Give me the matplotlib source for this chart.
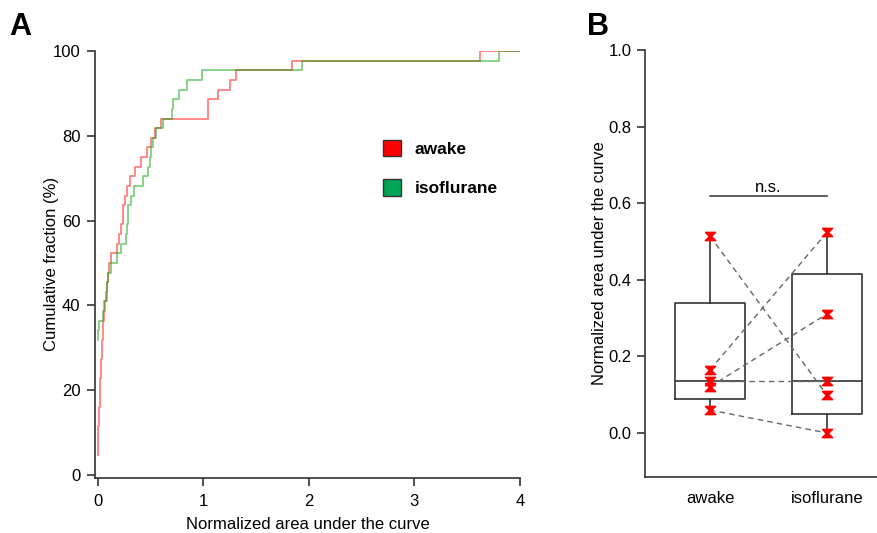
import numpy as np
import matplotlib
matplotlib.use("Agg")
import matplotlib.pyplot as plt
from matplotlib.patches import Patch
from matplotlib.path import Path

plt.rcParams["font.family"] = ["Liberation Sans", "DejaVu Sans"]

# Panel A: normalized AUC per cell (sorted)
awake_auc = [0.0, 0.0, 0.003, 0.005, 0.008, 0.011, 0.015, 0.019, 0.022, 0.027,
             0.031, 0.036, 0.041, 0.045, 0.050, 0.054, 0.062, 0.070, 0.078, 0.085,
             0.100, 0.110, 0.125, 0.180, 0.205, 0.218, 0.240, 0.243, 0.260,
             0.280, 0.307, 0.353, 0.415, 0.470, 0.510, 0.543, 0.600, 1.050, 1.050,
             1.140, 1.250, 1.310, 1.840, 3.620]
iso_auc = [0.0] * 14 + [0.003, 0.010, 0.054, 0.060, 0.085, 0.085, 0.100, 0.125,
                        0.180, 0.220, 0.270, 0.280, 0.285, 0.290, 0.316, 0.340,
                        0.430, 0.473, 0.495, 0.510, 0.527, 0.549, 0.622, 0.700,
                        0.716, 0.773, 0.843, 0.984, 1.937, 3.800]

# Panel B: box statistics and paired per-animal values
groups = ["awake", "isoflurane"]
box_q1 = [0.089, 0.050]
box_med = [0.135, 0.135]
box_q3 = [0.339, 0.416]
box_lo = [0.060, 0.000]
box_hi = [0.514, 0.524]
pair_awake = [0.514, 0.165, 0.121, 0.137, 0.060]
pair_iso = [0.099, 0.524, 0.311, 0.137, 0.000]

RED = "#FF0000"
GREEN = "#00A000"
GRAY = "#333333"
FS = 12


def ecdf_xy(vals, xmax):
    v = np.sort(np.asarray(vals))
    u = np.unique(v)
    lev = np.searchsorted(v, u, side="right") / len(v) * 100
    return np.append(u, xmax), np.append(lev, lev[-1])


fig = plt.figure(figsize=(8.78, 5.33), dpi=100)

# ---- Panel A ----
ax = fig.add_axes([0.1082, 0.104, 0.484, 0.800])
for vals, col in [(awake_auc, RED), (iso_auc, GREEN)]:
    x, y = ecdf_xy(vals, 4.0)
    ax.step(x, y, where="post", color=col, alpha=0.5, lw=1.3)
ax.set_xlim(-0.025, 4.0)
ax.set_ylim(-0.7, 100)
ax.set_xticks([0, 1, 2, 3, 4])
ax.set_yticks([0, 20, 40, 60, 80, 100])
ax.set_xlabel("Normalized area under the curve", fontsize=FS, labelpad=6)
ax.set_ylabel("Cumulative fraction (%)", fontsize=FS)
ax.yaxis.set_label_coords(-0.085, 0.5)
for s in ["top", "right"]:
    ax.spines[s].set_visible(False)
for s in ["left", "bottom"]:
    ax.spines[s].set_color(GRAY)
    ax.spines[s].set_linewidth(1.2)
ax.tick_params(labelsize=FS, length=5.5, width=1.2, color=GRAY)
ax.tick_params(axis="x", pad=6)
ax.tick_params(axis="y", pad=5)
ax.legend(handles=[Patch(facecolor=RED, edgecolor=GRAY, label="awake"),
                   Patch(facecolor="#00A651", edgecolor=GRAY, label="isoflurane")],
          loc="upper left", bbox_to_anchor=(0.678, 0.792), frameon=False,
          borderpad=0, borderaxespad=0, handlelength=1.05, handleheight=1.05,
          handletextpad=0.75, labelspacing=1.3, prop={"weight": "bold", "size": 12.5})
fig.text(0.011, 0.95, "A", fontsize=22, fontweight="bold", va="center")

# ---- Panel B ----
bx = fig.add_axes([0.7346, 0.105, 0.2654, 0.801])
stats = [dict(med=m, q1=a, q3=b, whislo=lo, whishi=hi, fliers=[], label=g)
         for g, m, a, b, lo, hi in zip(groups, box_med, box_q1, box_q3, box_lo, box_hi)]
line = dict(color=GRAY, lw=1.2)
bx.bxp(stats, positions=[1, 2], widths=0.6, showcaps=False, showfliers=False,
       boxprops=line, whiskerprops=line, medianprops=line, zorder=2)
for a, b in zip(pair_awake, pair_iso):
    bx.plot([1, 2], [a, b], ls=(0, (4, 3)), color="#666666", lw=1, zorder=3)
hg = Path([(-1, 0.8), (1, 0.8), (0.2, 0), (1, -0.8), (-1, -0.8), (-0.2, 0), (-1, 0.8)])
bx.plot([1] * len(pair_awake), pair_awake, ls="none", marker=hg, ms=7.5,
        color=RED, zorder=4)
bx.plot([2] * len(pair_iso), pair_iso, ls="none", marker=hg, ms=7.5,
        color=RED, zorder=4)
bx.plot([1, 2], [0.62, 0.62], color=GRAY, lw=1.1)
bx.text(1.5, 0.621, "n.s.", ha="center", va="bottom", fontsize=FS)
bx.set_xlim(0.444, 2.436)
bx.set_ylim(-0.115, 1.0)
bx.set_yticks([0.0, 0.2, 0.4, 0.6, 0.8, 1.0])
bx.set_yticklabels(["0.0", "0.2", "0.4", "0.6", "0.8", "1.0"])
bx.set_xticks([1, 2])
bx.set_xticklabels(groups)
bx.set_ylabel("Normalized area under the curve", fontsize=FS)
bx.yaxis.set_label_coords(-0.165, 0.5)
for s in ["top", "right"]:
    bx.spines[s].set_visible(False)
for s in ["left", "bottom"]:
    bx.spines[s].set_color(GRAY)
    bx.spines[s].set_linewidth(1.2)
bx.tick_params(axis="y", labelsize=FS, length=5.5, width=1.2, color=GRAY, pad=4)
bx.tick_params(axis="x", labelsize=FS, length=0, pad=10)
fig.text(0.668, 0.95, "B", fontsize=22, fontweight="bold", va="center")

fig.savefig("out.png", dpi=100)
